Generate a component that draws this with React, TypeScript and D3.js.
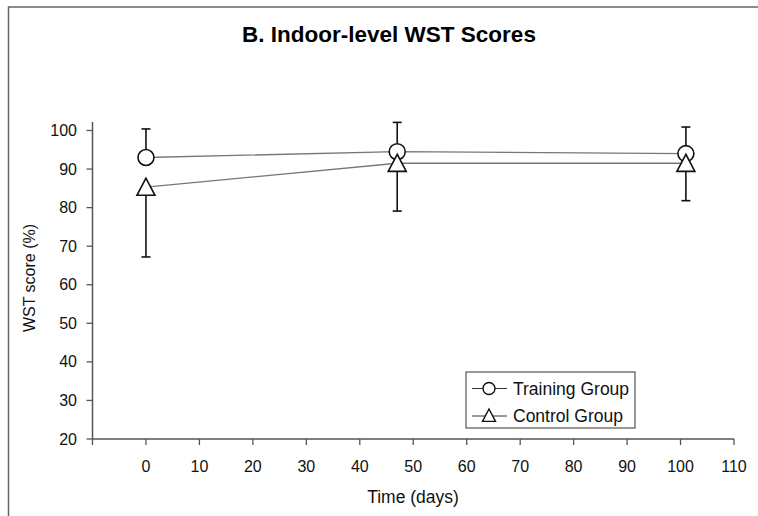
import React from "react";
import * as d3 from "d3";

const days = [0, 47, 101];
const trainingMean = [93.0, 94.5, 94.0];
const trainingUpper = [100.4, 102.1, 100.9];
const controlMean = [85.3, 91.5, 91.5];
const controlLower = [67.2, 79.1, 81.8];
const xTicks = [0, 10, 20, 30, 40, 50, 60, 70, 80, 90, 100, 110];
const yTicks = [20, 30, 40, 50, 60, 70, 80, 90, 100];
const seriesNames = ["Training Group", "Control Group"];

const W = 758;
const H = 516;
const FONT = "'Liberation Sans', Arial, sans-serif";

export default function App() {
  const x = d3.scaleLinear().domain([-10, 110]).range([92.5, 734]);
  const y = d3.scaleLinear().domain([20, 102.2]).range([439, 122]);
  const line = d3
    .line<[number, number]>()
    .x((d) => x(d[0]))
    .y((d) => y(d[1]));
  const tPts = days.map((d, i) => [d, trainingMean[i]] as [number, number]);
  const cPts = days.map((d, i) => [d, controlMean[i]] as [number, number]);
  const axisColor = "#555";
  const tri = (cx: number, cy: number, s: number) =>
    `M${cx},${cy - s}L${cx - s},${cy + s * 0.9}L${cx + s},${cy + s * 0.9}Z`;

  const legX = 466, legY = 372, legW = 169, legH = 56;

  return (
    <svg
      width={W}
      height={H}
      style={{ position: "fixed", left: 0, top: 0, background: "#fff" }}
      fontFamily={FONT}
    >
      <rect x={0} y={0} width={W} height={H} fill="#fff" />
      <rect x={8.5} y={7} width={W + 20} height={H + 20} fill="none" stroke="#666" strokeWidth={1.5} />
      <text x={389} y={42} textAnchor="middle" fontSize={22.5} fontWeight="bold" fill="#000">
        B. Indoor-level WST Scores
      </text>

      {/* axes */}
      <line x1={x(-10)} x2={x(-10)} y1={y(102.2)} y2={y(20)} stroke={axisColor} strokeWidth={1.5} />
      <line x1={x(-10)} x2={x(110)} y1={y(20)} y2={y(20)} stroke={axisColor} strokeWidth={1.5} />
      {yTicks.map((t) => (
        <g key={"y" + t}>
          <line x1={x(-10) - 6} x2={x(-10)} y1={y(t)} y2={y(t)} stroke={axisColor} strokeWidth={1.3} />
          <text x={77} y={y(t) + 5.5} textAnchor="end" fontSize={16} fill="#111">
            {t}
          </text>
        </g>
      ))}
      <line x1={x(-10)} x2={x(-10)} y1={y(20)} y2={y(20) + 6} stroke={axisColor} strokeWidth={1.3} />
      {xTicks.map((t) => (
        <g key={"x" + t}>
          <line x1={x(t)} x2={x(t)} y1={y(20)} y2={y(20) + 6} stroke={axisColor} strokeWidth={1.3} />
          <text x={x(t)} y={472} textAnchor="middle" fontSize={16} fill="#111">
            {t}
          </text>
        </g>
      ))}
      <text x={413} y={503} textAnchor="middle" fontSize={17.5} fill="#111">
        Time (days)
      </text>
      <text
        transform={`translate(35,${278}) rotate(-90)`}
        textAnchor="middle"
        fontSize={16}
        fill="#111"
      >
        WST score (%)
      </text>

      {/* lines */}
      <path d={line(tPts) || ""} fill="none" stroke="#777" strokeWidth={1.3} />
      <path d={line(cPts) || ""} fill="none" stroke="#777" strokeWidth={1.3} />

      {/* error bars */}
      {days.map((d, i) => (
        <g key={"et" + i} stroke="#111" strokeWidth={1.6}>
          <line x1={x(d)} x2={x(d)} y1={y(trainingMean[i])} y2={y(trainingUpper[i])} />
          <line x1={x(d) - 4.5} x2={x(d) + 4.5} y1={y(trainingUpper[i])} y2={y(trainingUpper[i])} />
        </g>
      ))}
      {days.map((d, i) => (
        <g key={"ec" + i} stroke="#111" strokeWidth={1.6}>
          <line x1={x(d)} x2={x(d)} y1={y(controlMean[i])} y2={y(controlLower[i])} />
          <line x1={x(d) - 4.5} x2={x(d) + 4.5} y1={y(controlLower[i])} y2={y(controlLower[i])} />
        </g>
      ))}

      {/* markers */}
      {tPts.map((p, i) => (
        <circle key={"c" + i} cx={x(p[0])} cy={y(p[1])} r={8} fill="#fff" stroke="#111" strokeWidth={1.6} />
      ))}
      {cPts.map((p, i) => (
        <path key={"t" + i} d={tri(x(p[0]), y(p[1]), 9)} fill="#fff" stroke="#111" strokeWidth={1.6} />
      ))}

      {/* legend */}
      <rect x={legX} y={legY} width={legW} height={legH} fill="#fff" stroke="#555" strokeWidth={1.2} />
      {seriesNames.map((name, i) => {
        const cy = legY + 16.5 + i * 27.5;
        return (
          <g key={"l" + i}>
            <line x1={472} x2={507} y1={cy} y2={cy} stroke="#333" strokeWidth={1.2} />
            {i === 0 ? (
              <circle cx={489} cy={cy} r={6} fill="#fff" stroke="#111" strokeWidth={1.4} />
            ) : (
              <path d={tri(489, cy - 0.5, 6.5)} fill="#fff" stroke="#111" strokeWidth={1.4} />
            )}
            <text x={513} y={cy + 6} fontSize={17.5} fill="#111">
              {name}
            </text>
          </g>
        );
      })}
    </svg>
  );
}
